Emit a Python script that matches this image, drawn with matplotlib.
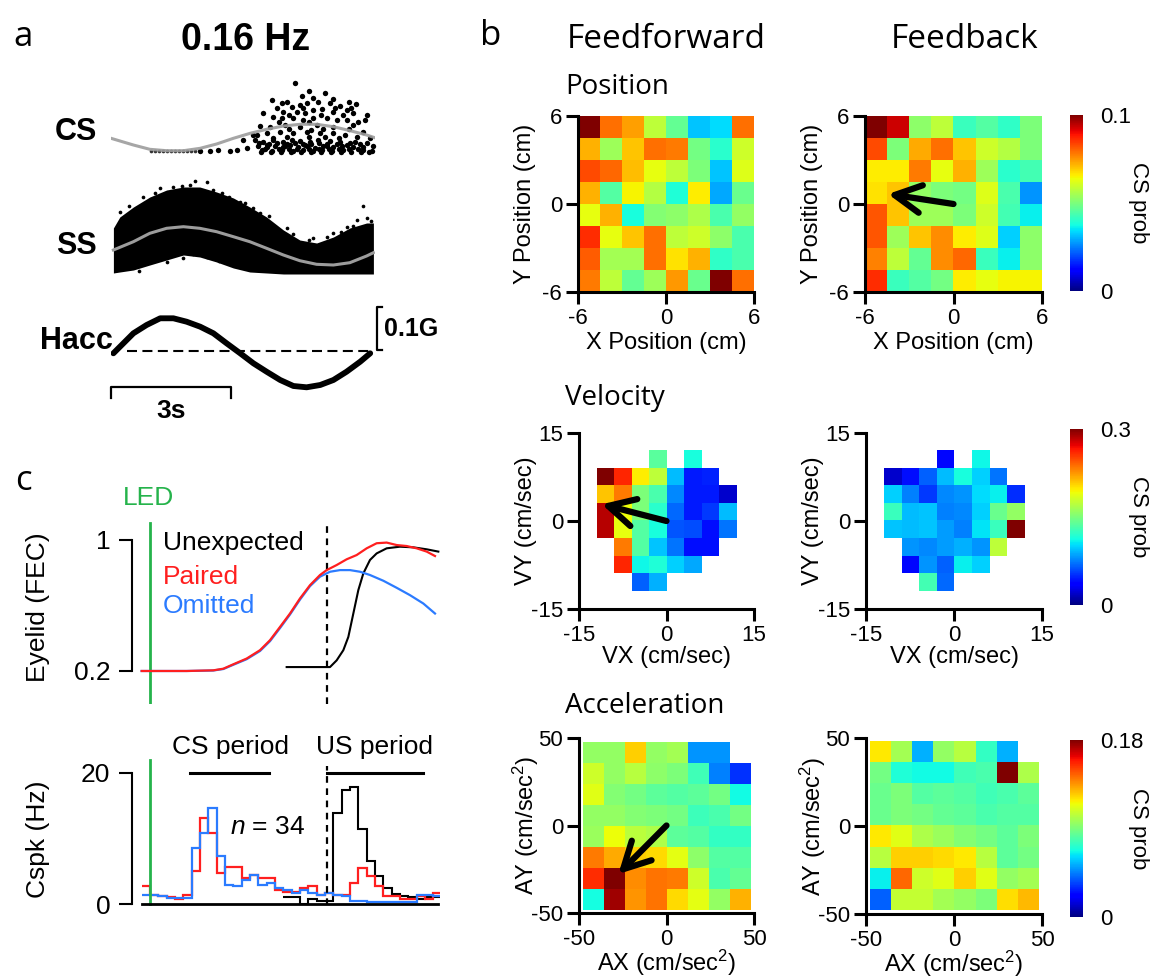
import numpy as np
import matplotlib
matplotlib.use('Agg')
import matplotlib.pyplot as plt

plt.rcParams['font.family'] = ['Liberation Sans', 'DejaVu Sans']
plt.rcParams['mathtext.fontset'] = 'custom'
plt.rcParams['mathtext.rm'] = 'Liberation Sans'
plt.rcParams['mathtext.it'] = 'Liberation Sans:italic'
plt.rcParams['mathtext.bf'] = 'Liberation Sans:bold'
plt.rcParams['axes.unicode_minus'] = False

# ---------------- DATA ----------------
# Panel a (time in s within one 0.16 Hz cycle)
cs_fit_t = [0.0, 0.56, 0.97, 1.39, 1.81, 2.23, 2.64, 3.06, 3.48, 3.89, 4.31, 4.73, 5.14, 5.56, 5.98, 6.39, 6.64]
cs_fit_y = [16.7, 10, 5.7, 4.3, 4.3, 6.7, 11, 16.7, 21.7, 25.7, 29, 30.7, 30.7, 28.3, 24.3, 20, 16.7]
cs_spk_t = [4.60, 4.96, 5.35, 4.02, 4.77, 5.06, 5.56, 5.96, 6.13, 4.27, 4.39, 4.52, 4.73, 4.89, 5.18, 5.48,
            5.73, 5.89, 4.14, 4.31, 4.64, 4.85, 5.06, 5.27, 5.56, 5.81, 6.06, 6.39, 3.81, 4.06, 4.27, 4.56,
            4.81, 5.06, 5.39, 5.64, 5.89, 6.18, 6.35, 3.73, 3.98, 4.35, 4.73, 5.14, 5.56, 6.06, 6.31, 3.64,
            3.89, 4.23, 4.56, 4.89, 5.23, 5.56, 5.85, 6.14, 6.48, 3.60, 3.81, 4.06, 4.31, 4.52, 4.73, 4.98,
            5.18, 5.48, 5.73, 5.98, 6.23, 3.68, 3.89, 4.10, 4.31, 4.48, 4.68, 4.89, 5.10, 5.31, 5.56, 5.77,
            6.06, 6.31, 6.56, 3.77, 4.02, 4.27, 4.56, 4.81, 5.06, 5.27, 5.52, 5.81, 6.18, 6.52, 3.39, 3.14,
            2.98, 2.68, 2.48, 2.23, 3.31, 3.56,
            3.70, 3.95, 4.15, 4.40, 4.60, 4.80, 5.00, 5.20, 5.40, 5.65, 5.90, 6.10, 6.40, 3.85, 4.20, 4.45,
            4.65, 4.95, 5.20, 5.45, 5.70, 5.95, 6.30, 4.05, 4.40, 4.95, 5.35, 5.70, 4.20, 4.95, 5.25, 4.45,
            5.60, 4.80, 6.00, 5.00, 5.30, 4.45, 5.95,
            3.75, 4.00, 4.25, 4.50, 4.75, 5.00, 5.25, 5.50, 5.75, 6.00, 6.25, 6.45, 3.90, 4.35, 4.85, 5.40]
cs_spk_y = [72.3, 64.3, 62.3, 55, 59, 56.7, 55.7, 53.3, 51, 51.7, 53.3, 48.3, 50, 51.7, 53.3, 51.7,
            49, 45, 46.7, 43.3, 43.3, 41.7, 45, 45.7, 43.3, 40, 41.7, 40, 41.7, 38.3, 36.7, 36.7,
            35, 36.7, 36.7, 35, 35, 33.3, 35, 29, 28.3, 30, 28.3, 30, 28.3, 30, 23.3, 20,
            21.7, 23.3, 21.7, 23.3, 21.7, 21.7, 20, 18.3, 16.7, 15, 13.3, 15, 13.3, 15, 14.3, 13.3,
            15, 14, 13.3, 11.7, 11, 9, 8.3, 9, 7.7, 9.7, 8.3, 9, 7.3, 9, 7.7, 9,
            8.3, 7.7, 9, 5, 4.3, 5, 4, 5, 4.3, 5, 4, 5, 5.7, 4.3, 6.7, 5,
            4.3, 5, 4.3, 4, 15, 20,
            12, 11, 12, 11.5, 12, 11, 11, 12, 11.5, 11, 10, 13, 12, 6.5, 6.5, 6,
            6.5, 6, 6.5, 6, 6.5, 6, 5, 17, 18, 18, 18, 17, 33, 33, 40, 40,
            47, 47, 47, 25, 26, 26, 26,
            3.5, 3.5, 3.5, 3.5, 3.5, 3.5, 3.5, 3.5, 3.5, 3.5, 3.5, 3.5, 10, 9, 10, 9]
cs_base_t = [1.0, 1.1, 1.2, 1.3, 1.4, 1.5, 1.6, 1.7, 1.8, 1.9, 2.0, 2.1]
cs_base_y = [4.3, 4.3, 4.3, 4.3, 4.3, 4.3, 4.3, 4.3, 4.3, 4.3, 4.3, 4.3]

ss_t = [0.06, 0.22, 0.56, 0.97, 1.39, 1.81, 2.22, 2.64, 3.06, 3.47, 3.89, 4.31, 4.72, 5.14, 5.56, 5.97, 6.39, 6.56]
ss_hi = [57, 68, 78, 88, 95, 98, 98, 93, 87, 78, 68, 55, 45, 42, 48, 57, 62, 62]
ss_lo = [12, 13, 15, 20, 25, 30, 28, 23, 17, 13, 12, 11, 11, 11, 11, 11, 11, 11]
ss_out_t = [2.10, 2.39, 1.77, 1.98, 2.77, 3.06, 3.56, 4.14, 6.31, 6.14, 5.06, 5.56, 1.225, 0.81, 3.225,
            3.725, 4.39, 5.39, 5.89, 6.39, 0.225, 1.81, 2.39, 1.39, 0.45, 1.10, 1.55, 2.55, 2.95, 3.35,
            3.95, 4.55, 4.95, 5.75, 6.05, 6.50, 0.70, 2.05, 2.70, 3.20]
ss_out_y = [104.3, 103.3, 99, 100, 92.3, 81.7, 76.7, 53.3, 79, 65, 46.7, 51.7, 96.7, 88.3, 83.3,
            71.7, 56.7, 48.3, 58.3, 66.7, 73.3, 26.7, 27.7, 23.3, 79, 92, 98, 95, 88, 82,
            69, 51, 45, 53, 59, 64, 14, 31, 24, 19]
ss_fit_t = [0.06, 0.56, 0.97, 1.39, 1.81, 2.22, 2.64, 3.06, 3.47, 3.89, 4.31, 4.72, 5.14, 5.56, 5.97, 6.39, 6.56]
ss_fit_y = [35, 43.3, 51.7, 56.7, 58.3, 56.7, 53.3, 48.3, 43.3, 36.7, 30, 24.3, 20.7, 20, 22.3, 29, 32.3]

hacc_t = [0.06, 0.31, 0.56, 0.89, 1.23, 1.56, 1.89, 2.23, 2.56, 2.89, 3.23, 3.56, 3.89, 4.23, 4.56, 4.89,
          5.23, 5.56, 5.89, 6.23, 6.48]
hacc_y = [46.7, 56.7, 66.7, 75, 81.7, 81.7, 78.3, 73.3, 66.7, 56.7, 46.7, 36.7, 28.3, 20, 14, 12.7,
          15, 20, 28.3, 38.3, 46.7]
hacc_zero = 49.3

# Panel c (time in ms from LED onset)
US_T = 212
eye_red_t = [-10, 0, 44, 76, 88, 100, 116, 132, 144, 156, 168, 180, 192, 204, 212, 224, 236, 248, 260, 272,
             284, 296, 308, 320, 332, 342]
eye_red_v = [0.2, 0.2, 0.2, 0.204, 0.214, 0.241, 0.276, 0.327, 0.388, 0.469, 0.551, 0.643, 0.724, 0.786,
             0.816, 0.847, 0.882, 0.908, 0.949, 0.980, 0.984, 0.969, 0.963, 0.949, 0.929, 0.902]
eye_blue_t = [-10, 0, 44, 76, 88, 100, 116, 132, 144, 156, 168, 180, 192, 204, 216, 228, 240, 252, 264,
              280, 296, 312, 328, 342]
eye_blue_v = [0.2, 0.2, 0.2, 0.203, 0.212, 0.238, 0.272, 0.322, 0.382, 0.462, 0.545, 0.636, 0.718, 0.776,
              0.806, 0.816, 0.816, 0.806, 0.786, 0.751, 0.708, 0.663, 0.612, 0.551]
eye_blk_t = [164, 216, 224, 232, 238, 244, 250, 256, 264, 272, 284, 300, 316, 332, 346]
eye_blk_v = [0.224, 0.224, 0.265, 0.327, 0.408, 0.551, 0.694, 0.796, 0.878, 0.918, 0.949, 0.959, 0.955,
             0.943, 0.929]

hist_edges = np.arange(-10, 351, 10)
cspk_red = [2.7, 1.4, 1.2, 1.0, 0.7, 1.4, 5.0, 13.1, 10.8, 4.7, 5.7, 5.7, 4.0, 4.4, 4.0, 4.0, 2.2, 1.9,
            1.9, 2.4, 2.7, 1.4, 1.7, 1.4, 1.4, 3.2, 5.5, 4.2, 2.7, 1.2, 1.2, 0.7, 0.7, 1.2, 0.7, 1.7]
cspk_blue = [1.4, 1.4, 1.2, 0.9, 0.9, 0.9, 8.5, 10.8, 14.7, 7.3, 2.9, 2.7, 3.7, 4.5, 2.9, 3.2, 2.4, 2.2,
             1.7, 2.2, 1.7, 1.4, 1.7, 1.4, 1.2, 0.4, 0.4, 0.3, 0.3, 0.3, 0.3, 0.3, 0.3, 1.4, 1.4, 1.2]
cspk_black_start = 160
cspk_black = [1.0, 1.0, 0.0, 0.7, 0.4, 0.5, 13.8, 17.4, 17.8, 11.5, 6.5, 4.2, 2.4, 1.6, 1.2, 1.1, 0.7,
              1.0, 1.1]

# Panel b heat maps (CS probability), top row first; None = no data
pos_ff = [[0.100, 0.079, 0.074, 0.058, 0.047, 0.032, 0.034, 0.079],
          [0.072, 0.054, 0.070, 0.079, 0.078, 0.049, 0.040, 0.060],
          [0.083, 0.080, 0.071, 0.063, 0.058, 0.050, 0.032, 0.062],
          [0.072, 0.045, 0.065, 0.057, 0.039, 0.066, 0.029, 0.048],
          [0.063, 0.072, 0.038, 0.051, 0.052, 0.056, 0.044, 0.053],
          [0.086, 0.063, 0.070, 0.079, 0.058, 0.060, 0.052, 0.044],
          [0.081, 0.055, 0.055, 0.079, 0.067, 0.072, 0.041, 0.044],
          [0.078, 0.058, 0.047, 0.054, 0.075, 0.048, 0.100, 0.079]]
pos_fb = [[0.100, 0.093, 0.052, 0.058, 0.042, 0.045, 0.041, 0.050],
          [0.083, 0.050, 0.073, 0.079, 0.070, 0.060, 0.057, 0.050],
          [0.066, 0.066, 0.078, 0.063, 0.072, 0.054, 0.040, 0.043],
          [0.067, 0.070, 0.053, 0.050, 0.049, 0.062, 0.044, 0.027],
          [0.082, 0.070, 0.054, 0.054, 0.050, 0.060, 0.043, 0.036],
          [0.082, 0.054, 0.070, 0.076, 0.066, 0.062, 0.033, 0.052],
          [0.077, 0.058, 0.047, 0.076, 0.080, 0.042, 0.036, 0.052],
          [0.086, 0.042, 0.045, 0.049, 0.066, 0.063, 0.065, 0.065]]
vel_ff = [[None, None, None, 0.138, None, 0.114, None, None],
          [0.300, 0.261, 0.198, 0.174, 0.093, 0.045, 0.048, None],
          [0.210, 0.234, 0.150, 0.132, 0.078, 0.045, 0.045, 0.021],
          [0.285, 0.192, 0.150, 0.120, 0.069, 0.045, 0.054, 0.093],
          [0.285, 0.189, 0.135, 0.114, 0.063, 0.060, 0.042, 0.072],
          [None, 0.234, 0.135, 0.096, 0.072, 0.042, 0.042, None],
          [None, 0.261, 0.111, 0.117, 0.099, 0.087, None, None],
          [None, None, 0.066, 0.090, None, None, None, None]]
vel_fb = [[None, None, None, 0.039, None, 0.111, None, None],
          [0.021, 0.042, 0.066, 0.093, 0.114, 0.099, 0.072, None],
          [0.099, 0.075, 0.054, 0.078, 0.081, 0.102, 0.108, 0.051],
          [0.126, 0.093, 0.096, 0.075, 0.078, 0.099, 0.144, 0.159],
          [0.096, 0.093, 0.096, 0.084, 0.075, 0.105, 0.126, 0.300],
          [None, 0.081, 0.078, 0.084, 0.090, 0.081, 0.174, None],
          [None, 0.039, 0.081, 0.066, 0.108, 0.099, None, None],
          [None, None, 0.129, 0.069, None, None, None, None]]
acc_ff = [[0.095, 0.095, 0.124, 0.095, 0.099, 0.049, 0.049, None],
          [0.108, 0.095, 0.103, 0.094, 0.090, 0.077, 0.045, 0.031],
          [0.112, 0.092, 0.088, 0.083, 0.081, 0.083, 0.088, 0.067],
          [0.095, 0.095, 0.092, 0.090, 0.088, 0.076, 0.079, 0.088],
          [0.097, 0.115, 0.104, 0.101, 0.083, 0.081, 0.074, 0.074],
          [0.140, 0.131, 0.124, 0.122, 0.113, 0.094, 0.081, 0.081],
          [0.155, 0.180, 0.137, 0.142, 0.140, 0.108, 0.079, 0.085],
          [0.068, 0.175, 0.135, 0.142, 0.122, 0.113, 0.095, 0.130]]
acc_fb = [[0.119, 0.099, 0.054, 0.095, 0.103, 0.074, 0.054, None],
          [0.088, 0.070, 0.067, 0.067, 0.077, 0.079, 0.180, 0.101],
          [0.086, 0.090, 0.081, 0.083, 0.081, 0.077, 0.079, 0.083],
          [0.086, 0.090, 0.088, 0.085, 0.083, 0.079, 0.081, 0.081],
          [0.119, 0.112, 0.101, 0.097, 0.092, 0.088, 0.083, 0.090],
          [0.103, 0.124, 0.124, 0.122, 0.119, 0.103, 0.083, 0.088],
          [0.065, 0.144, 0.108, 0.112, 0.124, 0.112, 0.095, 0.099],
          [0.040, 0.106, 0.106, 0.099, 0.095, 0.090, 0.121, 0.128]]
vmax_pos, vmax_vel, vmax_acc = 0.1, 0.3, 0.18

# ---------------- FIGURE ----------------
W, H = 1151, 977
fig = plt.figure(figsize=(W / 100, H / 100), dpi=100)


def px_axes(x0, y0, x1, y1):
    return fig.add_axes([x0 / W, 1 - y1 / H, (x1 - x0) / W, (y1 - y0) / H])


def ftext(x, y, s, **kw):
    fig.text(x / W, 1 - y / H, s, **kw)


GREEN = '#25b34b'
RED = '#ff1f1f'
BLUE = '#2b7bff'
GRAY = '#9c9c9c'
TITLE_FONT = ['Open Sans', 'DejaVu Sans']

# ---- panel a ----
ftext(23, 37, 'a', family=TITLE_FONT, fontsize=25, ha='center', va='center')
ftext(246, 40, '0.16 Hz', fontsize=27, fontweight='bold', ha='center', va='center')
ftext(97, 132, 'CS', fontsize=22, fontweight='bold', ha='right', va='center')
ftext(97, 246, 'SS', fontsize=22, fontweight='bold', ha='right', va='center')
ftext(113, 341, 'Hacc', fontsize=22, fontweight='bold', ha='right', va='center')

axcs = px_axes(111, 75, 375, 155)
axcs.set_xlim(0, 6.6); axcs.set_ylim(0, 80); axcs.axis('off')
axcs.scatter(cs_base_t, cs_base_y, s=7, color='#333333', linewidths=0, zorder=2)
axcs.scatter(cs_spk_t, cs_spk_y, s=15, color='black', linewidths=0, zorder=3, clip_on=False)
axcs.plot(cs_fit_t, cs_fit_y, color=GRAY, lw=2.2, zorder=4, alpha=0.9)

axss = px_axes(111, 170, 375, 285)
axss.set_xlim(0, 6.6); axss.set_ylim(0, 115); axss.axis('off')
axss.fill_between(ss_t, ss_lo, ss_hi, color='black', lw=0)
axss.scatter(ss_out_t, ss_out_y, s=7, color='black', linewidths=0, clip_on=False)
axss.plot(ss_fit_t, ss_fit_y, color=GRAY, lw=2.2)

axh = px_axes(111, 300, 375, 400)
axh.set_xlim(0, 6.6); axh.set_ylim(0, 100); axh.axis('off')
axh.plot([0.4, 6.5], [hacc_zero, hacc_zero], color='black', lw=1.5, ls=(0, (4.8, 2.6)))
axh.plot(hacc_t, hacc_y, color='black', lw=4.2, solid_capstyle='round', solid_joinstyle='round')
# 0.1G scale bracket
axh.plot([6.78, 6.66, 6.66, 6.78], [93, 93, 50, 50], color='black', lw=1.6, clip_on=False)
axh.text(6.83, 71, '0.1G', fontsize=18, fontweight='bold', ha='left', va='center', clip_on=False)
# 3 s scale bar
axh.plot([0, 0, 3, 3], [2, 13, 13, 2], color='black', lw=1.6, clip_on=False)
axh.text(1.5, -11, '3s', fontsize=19, fontweight='bold', ha='center', va='center', clip_on=False)

# ---- panel c ----
ftext(23, 481, 'c', family=TITLE_FONT, fontsize=25, ha='center', va='center')
ftext(149, 498, 'LED', color=GREEN, fontsize=19, ha='center', va='center')

axe = px_axes(132, 515.4, 440, 703.75)
axe.set_xlim(-21.6, 348); axe.set_ylim(0, 1.15)
for s in ['top', 'right', 'bottom']:
    axe.spines[s].set_visible(False)
axe.spines['left'].set_bounds(0.2, 1)
axe.spines['left'].set_linewidth(1.5)
axe.set_xticks([])
axe.set_yticks([0.2, 1]); axe.set_yticklabels(['0.2', '1'])
axe.tick_params(axis='y', length=9.5, width=1.5, labelsize=19, pad=6)
axe.plot([0, 0], [0, 1.104], color=GREEN, lw=2)
axe.plot([US_T, US_T], [0, 1.104], color='black', lw=1.6, ls=(0, (3, 2.5)))
axe.plot(eye_blk_t, eye_blk_v, color='black', lw=1.5)
axe.plot(eye_blue_t, eye_blue_v, color=BLUE, lw=1.6)
axe.plot(eye_red_t, eye_red_v, color=RED, lw=1.6)
axe.text(15.6, 0.98, 'Unexpected', color='black', fontsize=19, ha='left', va='center')
axe.text(15.6, 0.774, 'Paired', color=RED, fontsize=19, ha='left', va='center')
axe.text(15.6, 0.597, 'Omitted', color=BLUE, fontsize=19, ha='left', va='center')
ftext(38, 607, 'Eyelid (FEC)', fontsize=19, rotation=90, ha='center', va='center')

axc = px_axes(132, 740, 440, 906)
axc.set_xlim(-21.6, 348); axc.set_ylim(-0.3, 25)
for s in ['top', 'right', 'bottom']:
    axc.spines[s].set_visible(False)
axc.spines['left'].set_bounds(0, 20)
axc.spines['left'].set_linewidth(1.5)
axc.set_xticks([])
axc.set_yticks([0, 20])
axc.tick_params(axis='y', length=9.5, width=1.5, labelsize=19, pad=6)
axc.plot([0, 0], [-0.15, 22], color=GREEN, lw=2)
axc.plot([US_T, US_T], [-0.15, 21.1], color='black', lw=1.6, ls=(0, (3, 2.5)))
axc.plot([-10, 346], [0, 0], color='black', lw=2)
axc.stairs(cspk_black, np.arange(cspk_black_start, 351, 10), baseline=None, color='black', lw=1.5)
axc.stairs(cspk_red, hist_edges, baseline=None, color=RED, lw=1.6)
axc.stairs(cspk_blue, hist_edges, baseline=None, color=BLUE, lw=1.6)
axc.plot([48, 143], [20, 20], color='black', lw=2.2)
axc.plot([US_T, 328], [20, 20], color='black', lw=2.2)
axc.text(96, 24, 'CS period', fontsize=19, ha='center', va='center', clip_on=False)
axc.text(270, 24, 'US period', fontsize=19, ha='center', va='center', clip_on=False)
axc.text(141.6, 11.8, r'$n$ = 34', fontsize=19, ha='center', va='center')
ftext(38, 839, 'Cspk (Hz)', fontsize=19, rotation=90, ha='center', va='center')

# ---- panel b ----
JET = plt.get_cmap('jet').copy()
JET.set_bad((1, 1, 1, 0))

ftext(491, 36, 'b', family=TITLE_FONT, fontsize=25, ha='center', va='center')
ftext(666, 40, 'Feedforward', family=TITLE_FONT, fontsize=24, ha='center', va='center')
ftext(965, 40, 'Feedback', family=TITLE_FONT, fontsize=24, ha='center', va='center')
ftext(565, 87, 'Position', family=TITLE_FONT, fontsize=20, ha='left', va='center')
ftext(565, 398, 'Velocity', family=TITLE_FONT, fontsize=20, ha='left', va='center')
ftext(565, 706, 'Acceleration', family=TITLE_FONT, fontsize=20, ha='left', va='center')


def heatmap(box, grid, cell_edge, lim, vmax, xlabel, ylabel, xlab_dy):
    x0, y0, x1, y1 = box
    ax = px_axes(x0, y0, x1, y1)
    arr = np.array(grid, dtype=float)
    im = ax.imshow(arr, extent=[-cell_edge, cell_edge, -cell_edge, cell_edge], origin='upper',
                   cmap=JET, vmin=0, vmax=vmax, interpolation='nearest', aspect='auto')
    ax.set_xlim(-lim, lim); ax.set_ylim(-lim, lim)
    for s in ['top', 'right']:
        ax.spines[s].set_visible(False)
    for s in ['left', 'bottom']:
        ax.spines[s].set_linewidth(2.2)
    ax.set_xticks([-lim, 0, lim]); ax.set_yticks([-lim, 0, lim])
    ax.tick_params(direction='out', length=8.5, width=2.2, labelsize=16, pad=3)
    ftext((x0 + x1) / 2, y1 + xlab_dy, xlabel, fontsize=17, ha='center', va='center')
    ftext(x0 - 53, (y0 + y1) / 2, ylabel, fontsize=17, rotation=90, ha='center', va='center')
    return ax, im


def colorbar(im, box, vmax, label):
    x0, y0, x1, y1 = box
    cax = px_axes(x0, y0, x1, y1)
    cb = fig.colorbar(im, cax=cax, ticks=[0, vmax])
    cb.outline.set_visible(False)
    cb.ax.set_yticklabels(['0', f'{vmax:g}'])
    cb.ax.tick_params(length=0, labelsize=16, pad=12)
    ftext(1138, (y0 + y1) / 2, label, fontsize=16, rotation=270, ha='center', va='center')


arrow_kw = dict(arrowstyle='->,head_length=0.95,head_width=0.5', lw=4.5, color='black',
                shrinkA=0, shrinkB=0, mutation_scale=20, capstyle='round', joinstyle='round')

ax, im = heatmap((578, 116, 754, 292), pos_ff, 6, 6, vmax_pos, 'X Position (cm)', 'Y Position (cm)', 51)
ax, im = heatmap((865, 116, 1042, 292), pos_fb, 6, 6, vmax_pos, 'X Position (cm)', 'Y Position (cm)', 51)
ax.annotate('', xy=(-4.44, 0.68), xytext=(0, 0), arrowprops=arrow_kw)
colorbar(im, (1070, 115, 1083, 291), vmax_pos, 'CS prob')

ax, im = heatmap((579, 433, 754, 609), vel_ff, 12, 15, vmax_vel, 'VX (cm/sec)', 'VY (cm/sec)', 48)
ax.annotate('', xy=(-11.1, 2.85), xytext=(0, 0), arrowprops=arrow_kw)
ax, im = heatmap((866, 433, 1042, 609), vel_fb, 12, 15, vmax_vel, 'VX (cm/sec)', 'VY (cm/sec)', 48)
colorbar(im, (1070, 429, 1083, 605), vmax_vel, 'CS prob')

ax, im = heatmap((579, 738, 754, 913), acc_ff, 48, 50, vmax_acc, 'AX (cm/sec$^2$)', 'AY (cm/sec$^2$)', 50)
ax.annotate('', xy=(-27.5, -27.7), xytext=(0, 0), arrowprops=arrow_kw)
ax, im = heatmap((866, 738, 1042, 914), acc_fb, 48, 50, vmax_acc, 'AX (cm/sec$^2$)', 'AY (cm/sec$^2$)', 50)
colorbar(im, (1070, 740, 1083, 917), vmax_acc, 'CS prob')

fig.savefig('out.png', dpi=100)
